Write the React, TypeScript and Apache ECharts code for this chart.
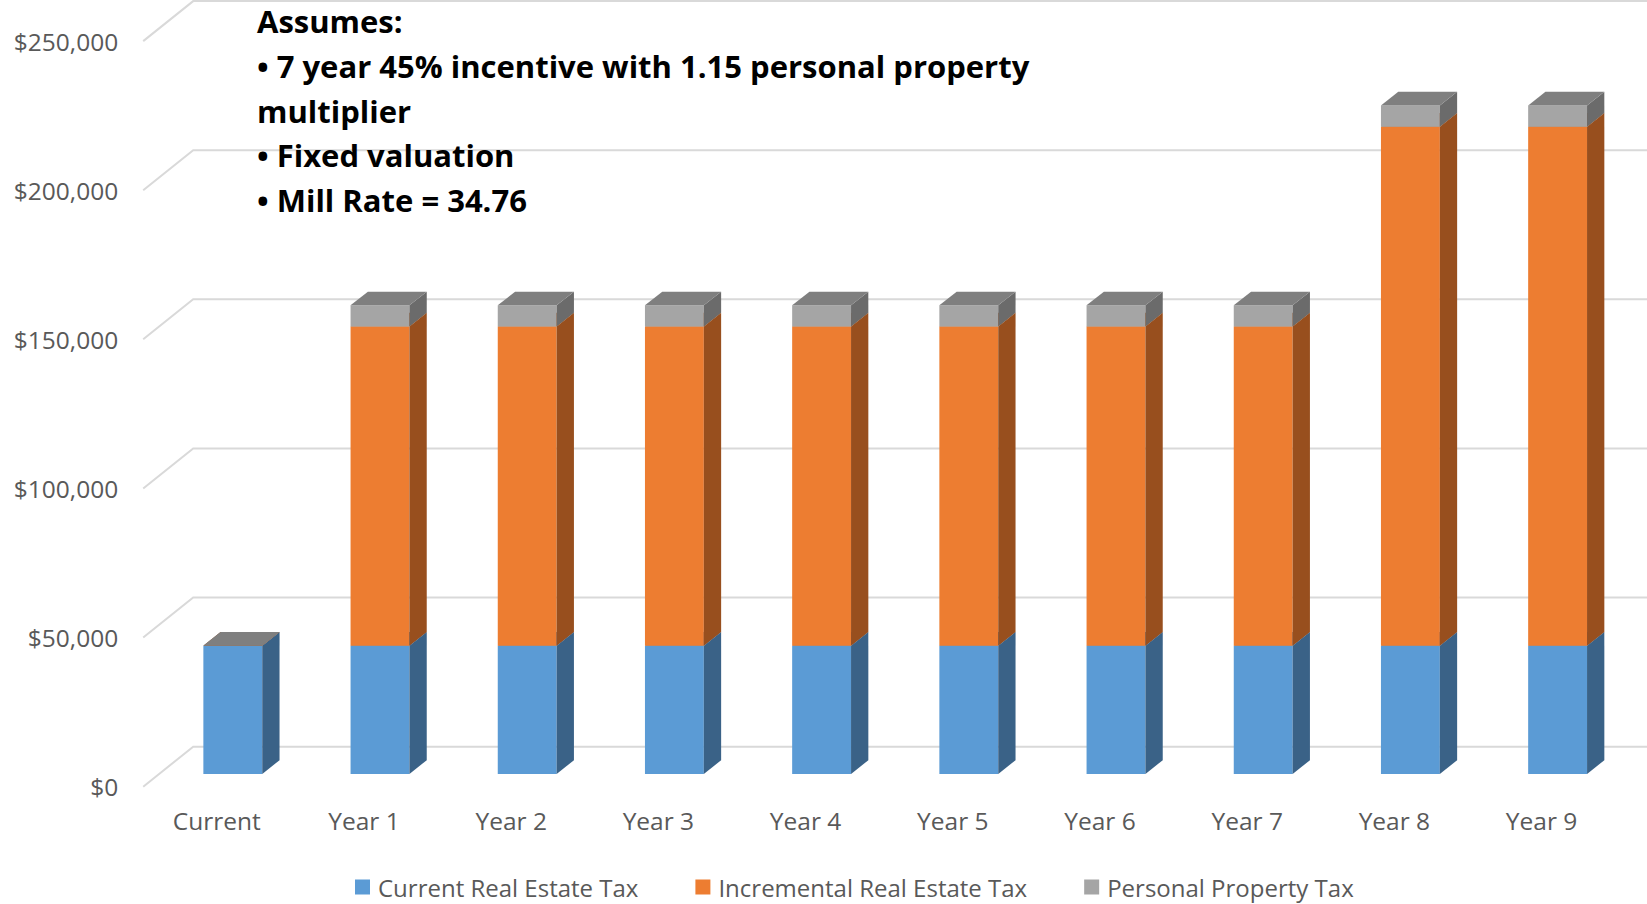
import React, { useEffect, useRef } from "react";
import * as echarts from "echarts";

const categories = ["Current", "Year 1", "Year 2", "Year 3", "Year 4", "Year 5", "Year 6", "Year 7", "Year 8", "Year 9"];
const currentRealEstateTax = [43000, 43000, 43000, 43000, 43000, 43000, 43000, 43000, 43000, 43000];
const incrementalRealEstateTax = [0, 107000, 107000, 107000, 107000, 107000, 107000, 107000, 174000, 174000];
const personalPropertyTax = [0, 7100, 7100, 7100, 7100, 7100, 7100, 7100, 7100, 7100];
const gridValues = [0, 50000, 100000, 150000, 200000, 250000];

const seriesNames = ["Current Real Estate Tax", "Incremental Real Estate Tax", "Personal Property Tax"];
const frontColors = ["#5B9BD5", "#ED7D31", "#A5A5A5"];
const sideColors = ["#3A6287", "#984F1E", "#6B6B6B"];
const topColors = ["#4A7FAE", "#BE6427", "#7F7F7F"];

const annotation = [
  "Assumes:",
  "\u2022 7 year 45% incentive with 1.15 personal property",
  "multiplier",
  "\u2022 Fixed valuation",
  "\u2022 Mill Rate = 34.76",
];

// oblique depth offsets (px)
const FRONT_DX = 16;
const FRONT_DY = 12.8;
const BAR_DX = 17.3;
const BAR_DY = 13.7;
const WALL_DX = 50;
const WALL_DY = 40;

const FONT = "'Open Sans', 'Noto Sans', sans-serif";

export default function App() {
  const ref = useRef<HTMLDivElement>(null);

  useEffect(() => {
    if (!ref.current) return;
    const chart = echarts.init(ref.current, null, { renderer: "svg" });

    const stacks = [currentRealEstateTax, incrementalRealEstateTax, personalPropertyTax];
    const seriesData = stacks.map((arr, si) =>
      arr.map((v, i) => {
        let base = 0;
        for (let k = 0; k < si; k++) base += stacks[k][i];
        return [i, base, base + v];
      })
    );

    const barSeries = seriesData.map((data, si) => ({
      type: "custom",
      name: seriesNames[si],
      z: 3 + si,
      itemStyle: { color: frontColors[si] },
      encode: { x: 0, y: [1, 2] },
      data,
      renderItem: (params: any, api: any) => {
        const cat = api.value(0);
        const lo = api.value(1);
        const hi = api.value(2);
        const pLo = api.coord([cat, lo]);
        const pHi = api.coord([cat, hi]);
        const band = api.size([1, 0])[0];
        const w = band * 0.4;
        const cx = pLo[0] + FRONT_DX;
        const x = cx - w / 2;
        const yBot = pLo[1] - FRONT_DY;
        const yTop = pHi[1] - FRONT_DY;
        const children: any[] = [];
        if (yBot - yTop > 0.01) {
          children.push({
            type: "rect",
            shape: { x, y: yTop, width: w, height: yBot - yTop },
            style: { fill: frontColors[si] },
          });
          children.push({
            type: "polygon",
            shape: {
              points: [
                [x + w, yTop],
                [x + w + BAR_DX, yTop - BAR_DY],
                [x + w + BAR_DX, yBot - BAR_DY],
                [x + w, yBot],
              ],
            },
            style: { fill: sideColors[si] },
          });
        }
        children.push({
          type: "polygon",
          shape: {
            points: [
              [x, yTop],
              [x + BAR_DX, yTop - BAR_DY],
              [x + w + BAR_DX, yTop - BAR_DY],
              [x + w, yTop],
            ],
          },
          style: { fill: topColors[si] },
        });
        return { type: "group", children };
      },
    }));

    const wallSeries = {
      type: "custom",
      name: "walls",
      z: 1,
      silent: true,
      encode: { x: 0, y: 1 },
      data: gridValues.map((v) => [0, v]),
      renderItem: (params: any, api: any) => {
        const cs = params.coordSys;
        const y = api.coord([0, api.value(1)])[1];
        return {
          type: "polyline",
          shape: {
            points: [
              [cs.x, y],
              [cs.x + WALL_DX, y - WALL_DY],
              [cs.x + cs.width + 60, y - WALL_DY],
            ],
          },
          style: { stroke: "#D9D9D9", lineWidth: 2, fill: null },
        };
      },
    };

    chart.setOption({
      animation: false,
      textStyle: { fontFamily: FONT },
      color: frontColors,
      grid: { left: 143.2, right: 31.8, top: 41.1, bottom: 117.3, containLabel: false },
      xAxis: {
        type: "category",
        data: categories,
        axisLine: { show: false },
        axisTick: { show: false },
        axisLabel: { color: "#595959", fontSize: 24.5, margin: 21, fontFamily: FONT },
        splitLine: { show: false },
      },
      yAxis: {
        type: "value",
        min: 0,
        max: 250000,
        interval: 50000,
        axisLine: { show: false },
        axisTick: { show: false },
        splitLine: { show: false },
        axisLabel: {
          color: "#595959",
          fontSize: 24.5,
          margin: 25,
          fontFamily: FONT,
          formatter: (v: number) => "$" + v.toLocaleString("en-US"),
        },
      },
      legend: {
        data: seriesNames.map((n) => ({ name: n, icon: "rect" })),
        left: 350,
        top: 870,
        itemWidth: 15,
        itemHeight: 15,
        itemGap: 57,
        textStyle: { color: "#595959", fontSize: 24, fontFamily: FONT, lineHeight: 24, padding: [0, 0, 0, 3] },
      },
      graphic: [
        {
          type: "text",
          left: 257,
          top: -1,
          z: 10,
          style: {
            text: annotation.join("\n"),
            font: "bold 31px " + FONT,
            fill: "#000000",
            lineHeight: 44.6,
          },
        },
      ],
      series: [wallSeries, ...barSeries],
    });

    return () => chart.dispose();
  }, []);

  return (
    <div
      ref={ref}
      style={{ position: "fixed", left: 0, top: 0, width: 1647, height: 904, background: "#ffffff" }}
    />
  );
}
